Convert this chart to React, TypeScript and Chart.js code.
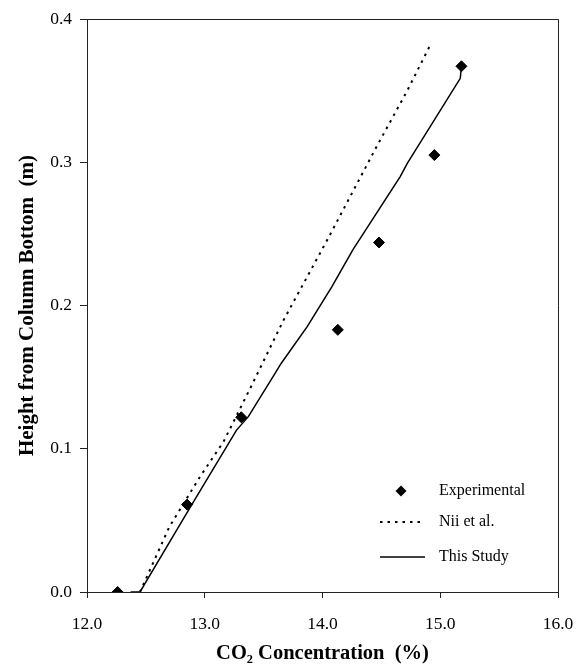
import React, { useEffect, useRef } from "react";
import { Chart, registerables } from "chart.js";

Chart.register(...registerables);

// Experimental points
const expX = [12.26, 12.85, 13.31, 14.13, 14.48, 14.95, 15.18];
const expY = [0.0, 0.061, 0.122, 0.183, 0.244, 0.305, 0.367];

// Nii et al. (dotted)
const niiX = [12.45, 12.7, 12.96, 13.16, 13.4, 13.67, 14.04, 14.46, 14.72, 14.91];
const niiY = [0.0, 0.0456, 0.0805, 0.105, 0.1445, 0.1899, 0.2457, 0.311, 0.35, 0.381];

// This Study (solid)
const studyX = [12.37, 12.45, 12.89, 13.27, 13.37, 13.58, 13.65, 13.87, 14.08, 14.26, 14.66, 14.72, 15.17, 15.18];
const studyY = [0.0, 0.0, 0.061, 0.113, 0.1224, 0.1503, 0.1597, 0.1852, 0.2131, 0.2392, 0.29, 0.2992, 0.3586, 0.367];

const xTicks = [12.0, 13.0, 14.0, 15.0, 16.0];
const yTicks = [0.0, 0.1, 0.2, 0.3, 0.4];

const seriesLabels = ["Experimental", "Nii et al.", "This Study"];

const FONT = '"Liberation Serif", "Times New Roman", serif';

const zip = (xs: number[], ys: number[]) => xs.map((x, i) => ({ x, y: ys[i] }));

const framePlugin = {
  id: "frame",
  afterDraw(chart: any) {
    const { ctx, chartArea } = chart;
    ctx.save();
    ctx.strokeStyle = "#222";
    ctx.lineWidth = 1;
    ctx.beginPath();
    ctx.moveTo(chartArea.left, chartArea.top + 0.5);
    ctx.lineTo(chartArea.right + 0.5, chartArea.top + 0.5);
    ctx.lineTo(chartArea.right + 0.5, chartArea.bottom);
    ctx.stroke();
    ctx.restore();
  },
};

const legendPlugin = {
  id: "insideLegend",
  afterDraw(chart: any) {
    const { ctx, chartArea } = chart;
    const r = chartArea.right;
    const b = chartArea.bottom;
    const textX = r - 119;
    const rows = [b - 101, b - 70, b - 35];
    ctx.save();
    ctx.font = `16px ${FONT}`;
    ctx.fillStyle = "#000";
    ctx.textBaseline = "middle";
    ctx.textAlign = "left";
    seriesLabels.forEach((lab, i) => ctx.fillText(lab, textX, rows[i]));
    // diamond
    const cx = r - 157;
    const cy = rows[0];
    const s = 5.5;
    ctx.beginPath();
    ctx.moveTo(cx - s, cy);
    ctx.lineTo(cx, cy - s);
    ctx.lineTo(cx + s, cy);
    ctx.lineTo(cx, cy + s);
    ctx.closePath();
    ctx.fill();
    // dotted
    ctx.strokeStyle = "#000";
    ctx.lineWidth = 2;
    ctx.setLineDash([2.5, 5]);
    ctx.beginPath();
    ctx.moveTo(r - 178, rows[1]);
    ctx.lineTo(r - 133, rows[1]);
    ctx.stroke();
    // solid
    ctx.setLineDash([]);
    ctx.lineWidth = 1.5;
    ctx.beginPath();
    ctx.moveTo(r - 178, rows[2]);
    ctx.lineTo(r - 133, rows[2]);
    ctx.stroke();
    ctx.restore();
  },
};

export default function App() {
  const ref = useRef<HTMLCanvasElement | null>(null);
  useEffect(() => {
    if (!ref.current) return;
    const chart = new Chart(ref.current, {
      type: "scatter",
      data: {
        datasets: [
          {
            label: seriesLabels[0],
            data: zip(expX, expY),
            showLine: false,
            pointStyle: "rectRot",
            pointRadius: 5.5,
            pointBackgroundColor: "#000",
            pointBorderColor: "#000",
            pointBorderWidth: 1,
            order: 0,
          },
          {
            label: seriesLabels[1],
            data: zip(niiX, niiY),
            showLine: true,
            borderColor: "#000",
            borderWidth: 2,
            borderDash: [2.5, 5],
            pointRadius: 0,
            fill: false,
            tension: 0,
            order: 2,
          },
          {
            label: seriesLabels[2],
            data: zip(studyX, studyY),
            showLine: true,
            borderColor: "#000",
            borderWidth: 1.5,
            pointRadius: 0,
            fill: false,
            tension: 0,
            order: 1,
          },
        ],
      },
      options: {
        responsive: false,
        animation: false,
        layout: { padding: { left: 0, top: 19, right: 20, bottom: 0 } },
        plugins: {
          legend: { display: false },
          tooltip: { enabled: false },
        },
        scales: {
          x: {
            type: "linear",
            min: 12,
            max: 16,
            afterBuildTicks: (scale: any) => {
              scale.ticks = xTicks.map((v) => ({ value: v }));
            },
            afterFit: (scale: any) => {
              scale.height = 72;
              scale.paddingLeft = 0;
              scale.paddingRight = 0;
            },
            ticks: {
              color: "#000",
              font: { family: FONT, size: 17.5 },
              padding: 16,
              maxRotation: 0,
              callback: (v: any) => Number(v).toFixed(1),
            },
            grid: {
              drawOnChartArea: false,
              drawTicks: true,
              tickLength: 6,
              color: "#222",
            },
            border: { display: true, color: "#222", width: 1 },
            title: {
              display: true,
              text: "CO₂ Concentration  (%)",
              color: "#000",
              font: { family: FONT, size: 20.5, weight: "bold", lineHeight: 1 },
              padding: { top: 0, bottom: 0 },
            },
          },
          y: {
            type: "linear",
            min: 0,
            max: 0.4,
            afterBuildTicks: (scale: any) => {
              scale.ticks = yTicks.map((v) => ({ value: v }));
            },
            afterFit: (scale: any) => {
              scale.width = 87;
              scale.paddingTop = 0;
              scale.paddingBottom = 0;
            },
            ticks: {
              color: "#000",
              font: { family: FONT, size: 17.5 },
              padding: 8,
              callback: (v: any) => Number(v).toFixed(1),
            },
            grid: {
              drawOnChartArea: false,
              drawTicks: true,
              tickLength: 7,
              color: "#222",
            },
            border: { display: true, color: "#222", width: 1 },
            title: {
              display: true,
              text: "Height from Column Bottom  (m)",
              color: "#000",
              font: { family: FONT, size: 21, weight: "bold", lineHeight: 1.2 },
              padding: { top: 15, bottom: 0 },
            },
          },
        },
      },
      plugins: [framePlugin, legendPlugin],
    });
    return () => chart.destroy();
  }, []);
  return (
    <div style={{ position: "absolute", left: 0, top: 0, width: 578, height: 664 }}>
      <canvas ref={ref} width={578} height={664} />
    </div>
  );
}
